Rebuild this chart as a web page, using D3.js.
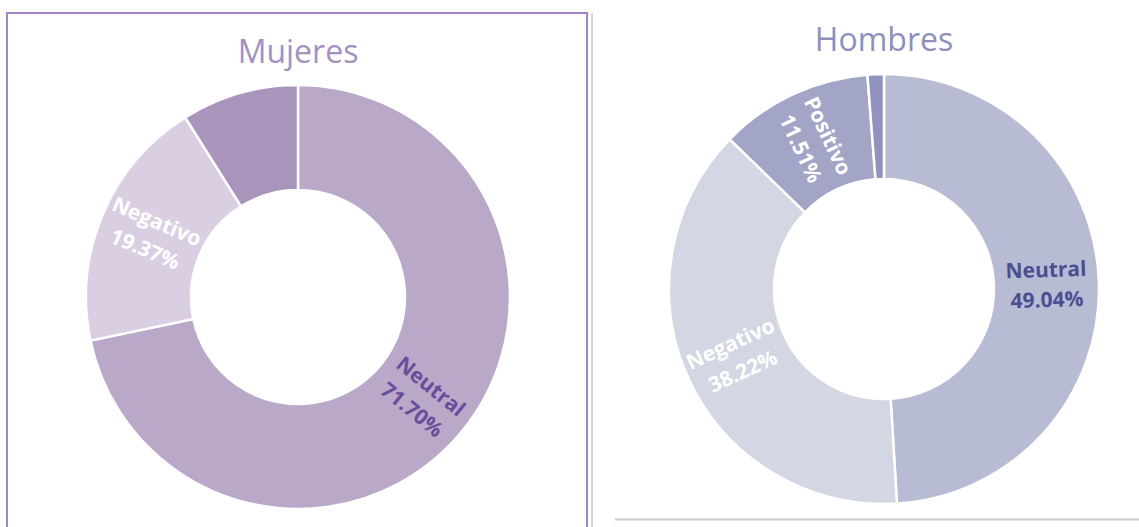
<!DOCTYPE html>
<html>
<head>
<meta charset="utf-8">
<script src="https://cdn.jsdelivr.net/npm/d3@7"></script>
<style>
  html, body { margin: 0; padding: 0; background: #fff; }
  svg { display: block; }
</style>
</head>
<body>
<svg id="chart" width="1139" height="527"></svg>
<script>
// Sentiment breakdown by gender
const categories = ["Neutral", "Negativo", "Positivo", "Otro"];

const mujeresValues = [71.70, 19.37, 8.93];
const mujeresLabeled = [true, true, false];

const hombresValues = [49.04, 38.22, 11.51, 1.23];
const hombresLabeled = [true, true, true, false];

const titles = ["Mujeres", "Hombres"];

const mujeresColors = ["#b9a8c8", "#dacfe2", "#a994bc"];
const hombresColors = ["#b8bbd4", "#d3d6e3", "#a2a5c6", "#8f93bd"];
const mujeresLabelColors = ["#6a4c9c", "#ffffff", "#ffffff"];
const hombresLabelColors = ["#4a4f91", "#ffffff", "#ffffff", "#ffffff"];

const svg = d3.select("#chart");

// panel frames
svg.append("rect")
  .attr("x", 7).attr("y", 13)
  .attr("width", 580).attr("height", 530)
  .attr("fill", "none").attr("stroke", "#a683c8").attr("stroke-width", 2);
svg.append("line")
  .attr("x1", 592).attr("x2", 592).attr("y1", 13).attr("y2", 527)
  .attr("stroke", "#c9c9c9").attr("stroke-width", 1.5);
svg.append("line")
  .attr("x1", 615).attr("x2", 1139).attr("y1", 519.5).attr("y2", 519.5)
  .attr("stroke", "#cccccc").attr("stroke-width", 2);

const pie = d3.pie().sort(null).value(d => d.value);

function donut(cfg) {
  const data = cfg.values.map((v, i) => ({
    name: categories[i], value: v, color: cfg.colors[i],
    labelColor: cfg.labelColors[i], labeled: cfg.labeled[i]
  }));
  const g = svg.append("g").attr("transform", `translate(${cfg.cx},${cfg.cy})`);
  const arc = d3.arc().innerRadius(cfg.inner).outerRadius(cfg.outer);
  const labelArc = d3.arc()
    .innerRadius((cfg.inner + cfg.outer) / 2)
    .outerRadius((cfg.inner + cfg.outer) / 2);
  const arcs = pie(data);

  g.selectAll("path.slice")
    .data(arcs)
    .join("path")
    .attr("class", "slice")
    .attr("d", arc)
    .attr("fill", d => d.data.color)
    .attr("stroke", "#ffffff")
    .attr("stroke-width", 2.5)
    .attr("stroke-linejoin", "miter");

  // radial labels, rotated so they always read left to right
  const labels = g.selectAll("g.lbl")
    .data(arcs.filter(d => d.data.labeled))
    .join("g")
    .attr("class", "lbl")
    .attr("transform", d => {
      const [x, y] = labelArc.centroid(d);
      const a = ((d.startAngle + d.endAngle) / 2) * 180 / Math.PI;
      const rot = a < 180 ? a - 90 : a - 270;
      return `translate(${x},${y}) rotate(${rot})`;
    });

  const txt = labels.append("text")
    .attr("text-anchor", "middle")
    .attr("font-family", "'Open Sans', sans-serif")
    .attr("font-weight", 700)
    .attr("font-size", 21)
    .attr("fill", d => d.data.labelColor);
  txt.append("tspan").attr("x", 0).attr("y", -7).text(d => d.data.name);
  txt.append("tspan").attr("x", 0).attr("y", 23)
    .text(d => d.data.value.toFixed(2) + "%");

  svg.append("text")
    .attr("x", cfg.cx).attr("y", cfg.titleY)
    .attr("text-anchor", "middle")
    .attr("font-family", "'Open Sans', sans-serif")
    .attr("font-size", 32)
    .attr("fill", cfg.titleColor)
    .text(cfg.title);
}

donut({
  values: mujeresValues, colors: mujeresColors, labelColors: mujeresLabelColors,
  labeled: mujeresLabeled, cx: 298, cy: 297, outer: 212, inner: 107,
  title: titles[0], titleY: 63, titleColor: "#a690c0"
});

donut({
  values: hombresValues, colors: hombresColors, labelColors: hombresLabelColors,
  labeled: hombresLabeled, cx: 884, cy: 289, outer: 215, inner: 110,
  title: titles[1], titleY: 51, titleColor: "#8d90bd"
});
</script>
</body>
</html>
